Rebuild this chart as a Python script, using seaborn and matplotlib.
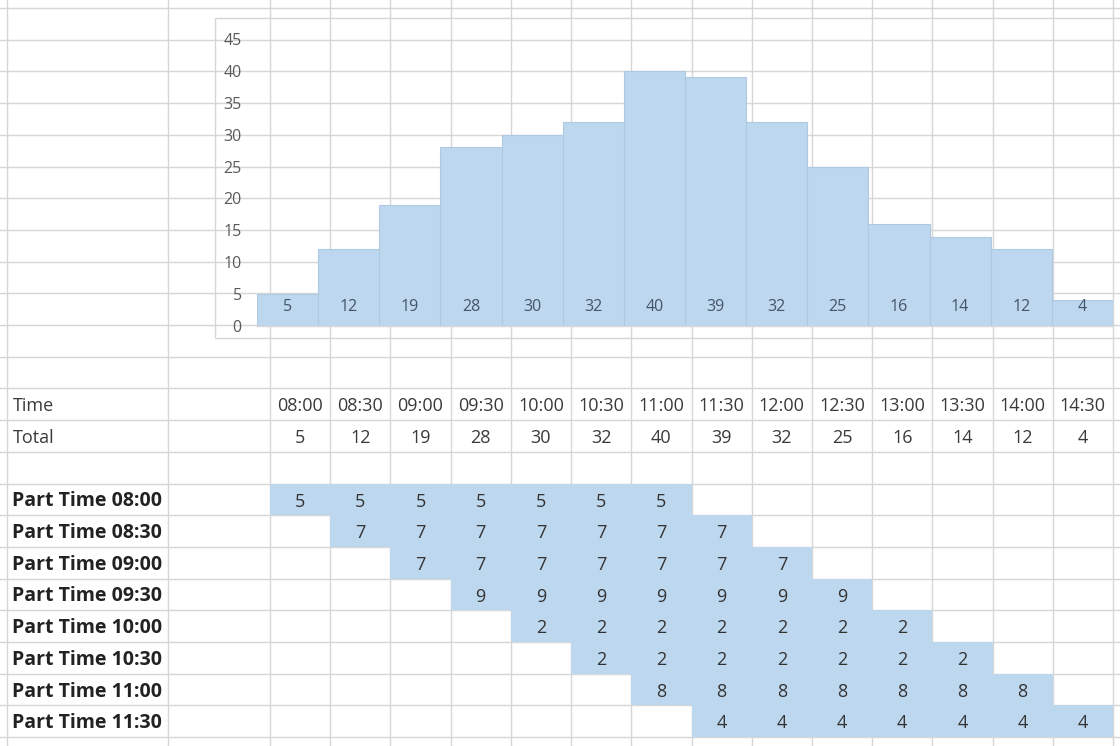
import numpy as np
import pandas as pd
import matplotlib
matplotlib.use("Agg")
import matplotlib.pyplot as plt
from matplotlib.colors import ListedColormap
from matplotlib.patches import Rectangle
import seaborn as sns

# ---------------- data ----------------
times = ["08:00", "08:30", "09:00", "09:30", "10:00", "10:30", "11:00",
         "11:30", "12:00", "12:30", "13:00", "13:30", "14:00", "14:30"]
totals = [5, 12, 19, 28, 30, 32, 40, 39, 32, 25, 16, 14, 12, 4]

shift_labels = ["Part Time 08:00", "Part Time 08:30", "Part Time 09:00",
                "Part Time 09:30", "Part Time 10:00", "Part Time 10:30",
                "Part Time 11:00", "Part Time 11:30"]
N = None
pt_0800 = [5, 5, 5, 5, 5, 5, 5, N, N, N, N, N, N, N]
pt_0830 = [N, 7, 7, 7, 7, 7, 7, 7, N, N, N, N, N, N]
pt_0900 = [N, N, 7, 7, 7, 7, 7, 7, 7, N, N, N, N, N]
pt_0930 = [N, N, N, 9, 9, 9, 9, 9, 9, 9, N, N, N, N]
pt_1000 = [N, N, N, N, 2, 2, 2, 2, 2, 2, 2, N, N, N]
pt_1030 = [N, N, N, N, N, 2, 2, 2, 2, 2, 2, 2, N, N]
pt_1100 = [N, N, N, N, N, N, 8, 8, 8, 8, 8, 8, 8, N]
pt_1130 = [N, N, N, N, N, N, N, 4, 4, 4, 4, 4, 4, 4]
shift_rows = [pt_0800, pt_0830, pt_0900, pt_0930, pt_1000, pt_1030, pt_1100, pt_1130]

# ---------------- styling ----------------
W, H = 1120, 746
BLUE = "#BDD7EE"
EDGE = "#AFC9E3"
GRID = "#D6D6D6"
FONT = ["Open Sans", "DejaVu Sans"]

sns.set_theme(style="white")
plt.rcParams["font.family"] = FONT

fig = plt.figure(figsize=(W / 100, H / 100), dpi=100)
fig.patch.set_facecolor("white")

# background "spreadsheet" axes in pixel coordinates
bg = fig.add_axes([0, 0, 1, 1])
bg.set_xlim(0, W)
bg.set_ylim(H, 0)
bg.axis("off")
bg.set_zorder(0)

row_h = 31.7
row0 = 8.0
col_left = 270.0
col_right = 1113.0
ncol = len(times)
col_w = (col_right - col_left) / ncol

# horizontal grid lines
for k in range(0, 24):
    y = row0 + row_h * k
    bg.plot([0, W], [y, y], color=GRID, lw=1.0, zorder=1)
# vertical grid lines
for x in [7, 168] + [col_left + col_w * j for j in range(ncol + 1)]:
    bg.plot([x, x], [0, H], color=GRID, lw=1.0, zorder=1)

# chart frame
bg.add_patch(Rectangle((215, 18), 920, 320, fill=False, edgecolor=GRID, lw=1.0, zorder=2))

def row_center(k):
    return row0 + row_h * k + row_h / 2 + 2

TEXT_SIZE = 13
LABEL_SIZE = 14
# Time / Total rows
bg.text(13, row_center(12), "Time", ha="left", va="center", fontsize=TEXT_SIZE, color="#3a3a3a")
bg.text(13, row_center(13), "Total", ha="left", va="center", fontsize=TEXT_SIZE, color="#3a3a3a")
for j, (t, v) in enumerate(zip(times, totals)):
    cx = col_left + col_w * (j + 0.5)
    bg.text(cx, row_center(12), t, ha="center", va="center", fontsize=TEXT_SIZE, color="#3a3a3a")
    bg.text(cx, row_center(13), str(v), ha="center", va="center", fontsize=TEXT_SIZE, color="#3a3a3a")

for i, lab in enumerate(shift_labels):
    bg.text(12, row_center(15 + i), lab, ha="left", va="center", fontsize=LABEL_SIZE,
            fontweight="bold", color="#222222")

# ---------------- bar chart ----------------
ax = fig.add_axes([257 / W, 1 - 326 / H, (1113 - 257) / W, (326 - 39) / H])
ax.set_facecolor("none")
ax.set_zorder(2)
df = pd.DataFrame({"time": times, "total": totals})
sns.barplot(data=df, x="time", y="total", color=BLUE, saturation=1, width=1.0,
            edgecolor=EDGE, linewidth=0.8, ax=ax)
ax.set_ylim(0, 45)
ax.set_xlim(-0.5, ncol - 0.5)
ax.set_yticks(range(0, 50, 5))
ax.set_xticks([])
ax.set_xlabel("")
ax.set_ylabel("")
ax.tick_params(axis="y", length=0, pad=11, labelsize=11.5, labelcolor="#595959")
for s in ["top", "right", "left"]:
    ax.spines[s].set_visible(False)
ax.spines["bottom"].set_color(GRID)
ax.spines["bottom"].set_linewidth(1.0)
for p, v in zip(ax.patches, totals):
    ax.annotate(str(v), xy=(p.get_x() + p.get_width() / 2, 0), xytext=(0, 14),
                textcoords="offset points", ha="center", va="center",
                fontsize=11.5, color="#44546A")

# ---------------- part-time table (heatmap) ----------------
mat = pd.DataFrame([[np.nan if v is None else v for v in r] for r in shift_rows],
                   index=shift_labels, columns=times, dtype=float)
top = row0 + row_h * 15
bottom = row0 + row_h * 23
hax = fig.add_axes([col_left / W, 1 - bottom / H, (col_right - col_left) / W, (bottom - top) / H])
hax.set_zorder(3)
hax.patch.set_alpha(0)
sns.heatmap(mat, mask=mat.isna(), cmap=ListedColormap([BLUE]), cbar=False,
            annot=True, fmt="g", linewidths=0,
            annot_kws={"fontsize": TEXT_SIZE, "color": "#333333"}, ax=hax)
hax.axis("off")
for t in hax.texts:
    x, y = t.get_position()
    t.set_position((x, y + 0.07))

fig.savefig("out.png", dpi=100, facecolor="white")
